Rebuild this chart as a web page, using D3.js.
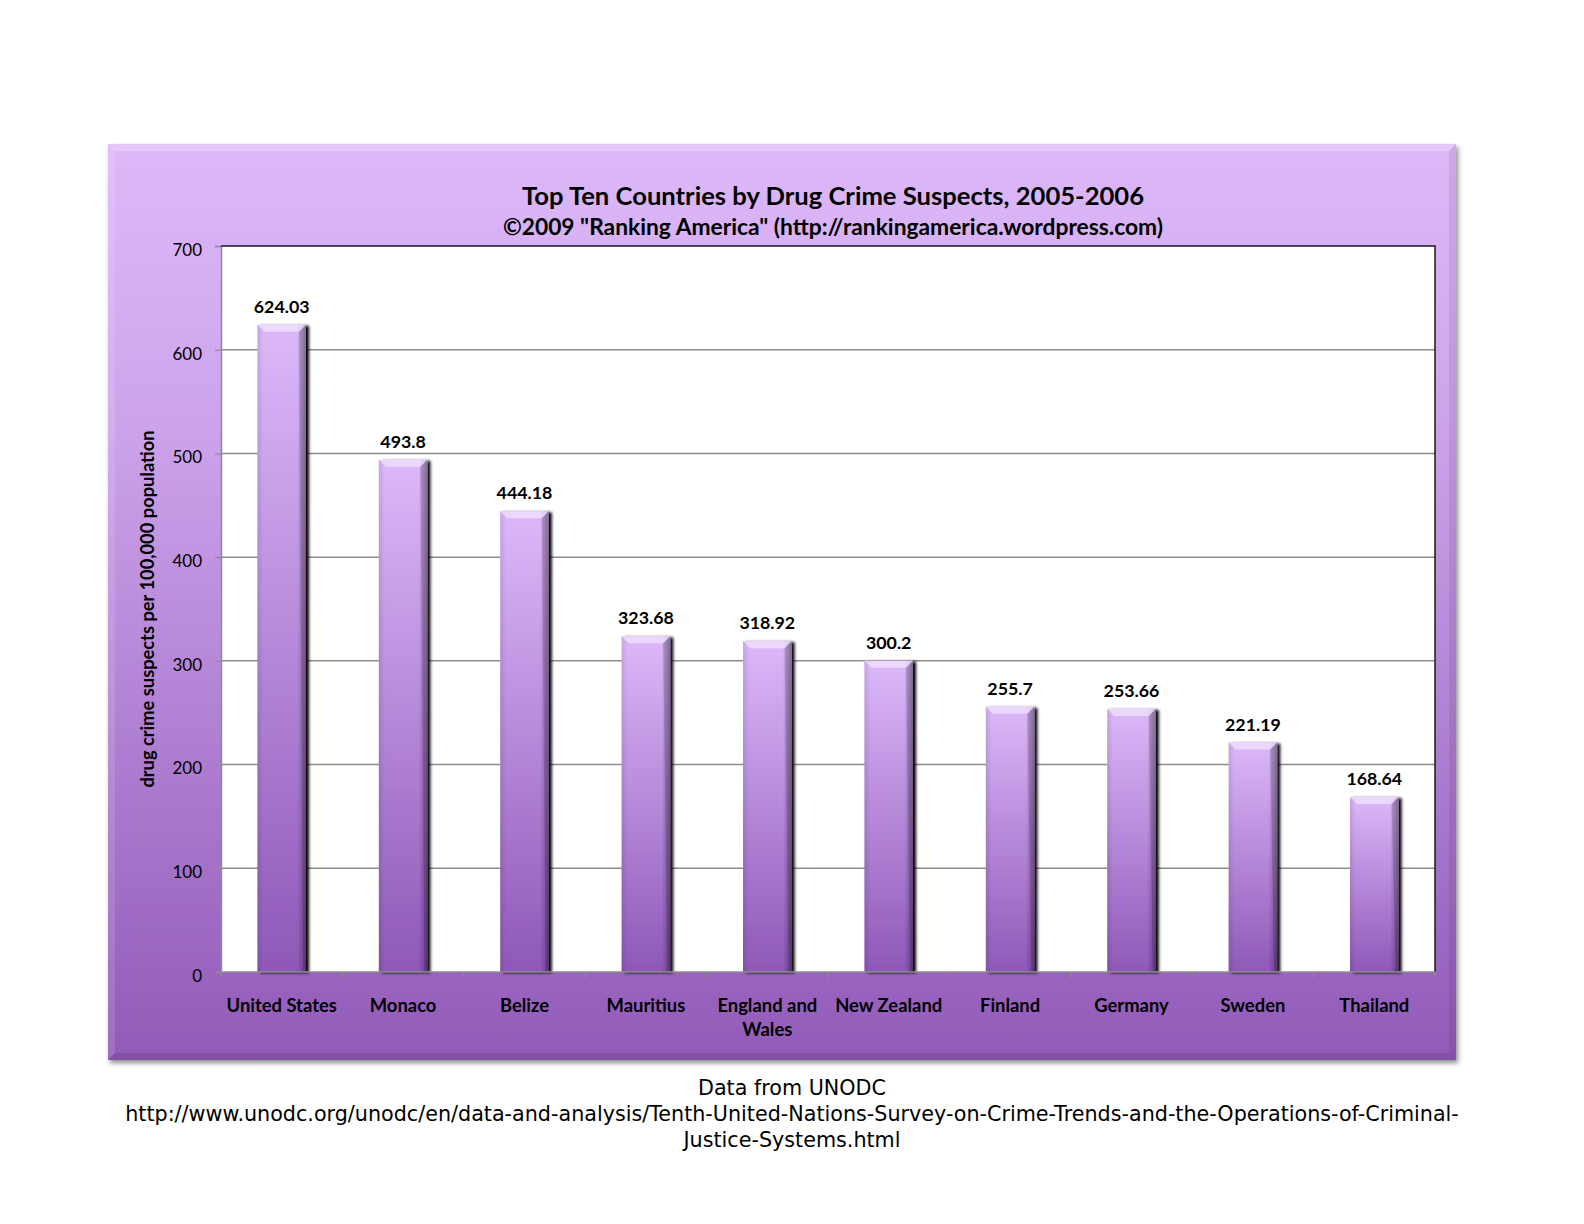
<!DOCTYPE html>
<html>
<head>
<meta charset="utf-8">
<script src="https://cdn.jsdelivr.net/npm/d3@7"></script>
<style>
  html, body { margin: 0; padding: 0; background: #ffffff; }
  svg { display: block; }
</style>
</head>
<body>
<svg id="chart" width="1584" height="1224"></svg>
<script>
const categories = ["United States", "Monaco", "Belize", "Mauritius", "England and Wales", "New Zealand", "Finland", "Germany", "Sweden", "Thailand"];
const values = [624.03, 493.8, 444.18, 323.68, 318.92, 300.2, 255.7, 253.66, 221.19, 168.64];
const yTicks = [0, 100, 200, 300, 400, 500, 600, 700];
const titleText = "Top Ten Countries by Drug Crime Suspects, 2005-2006";
const subtitleText = "©2009 \"Ranking America\" (http://rankingamerica.wordpress.com)";
const yAxisTitle = "drug crime suspects per 100,000 population";
const footerLines = ["Data from UNODC", "http://www.unodc.org/unodc/en/data-and-analysis/Tenth-United-Nations-Survey-on-Crime-Trends-and-the-Operations-of-Criminal-", "Justice-Systems.html"];

const svg = d3.select("#chart");
const panel = {x: 108, y: 144, w: 1348, h: 916};
const plot = {left: 221, top: 246, right: 1435, bottom: 972};
const labelFont = "Lato, Carlito, Calibri, 'Open Sans', sans-serif";

const defs = svg.append("defs");
const pg = defs.append("linearGradient").attr("id", "panelGrad").attr("x1", 0).attr("y1", 0).attr("x2", 0).attr("y2", 1);
pg.append("stop").attr("offset", "0%").attr("stop-color", "#ddb9f9");
pg.append("stop").attr("offset", "30%").attr("stop-color", "#cda4ec");
pg.append("stop").attr("offset", "100%").attr("stop-color", "#925ab8");

const bg = defs.append("linearGradient").attr("id", "barGrad").attr("x1", 0).attr("y1", 0).attr("x2", 0).attr("y2", 1);
bg.append("stop").attr("offset", "0%").attr("stop-color", "#dcb8fa");
bg.append("stop").attr("offset", "100%").attr("stop-color", "#8f58b8");

const bh = defs.append("linearGradient").attr("id", "barSide").attr("x1", 0).attr("y1", 0).attr("x2", 1).attr("y2", 0);
bh.append("stop").attr("offset", "0%").attr("stop-color", "#000").attr("stop-opacity", 0.10);
bh.append("stop").attr("offset", "12%").attr("stop-color", "#000").attr("stop-opacity", 0);
bh.append("stop").attr("offset", "82%").attr("stop-color", "#000").attr("stop-opacity", 0);
bh.append("stop").attr("offset", "100%").attr("stop-color", "#000").attr("stop-opacity", 0.30);

const shadow = defs.append("filter").attr("id", "panelShadow").attr("x", "-5%").attr("y", "-5%").attr("width", "110%").attr("height", "110%");
shadow.append("feDropShadow").attr("dx", 2).attr("dy", 3).attr("stdDeviation", 2.5).attr("flood-color", "#000").attr("flood-opacity", 0.45);

const barShadow = defs.append("filter").attr("id", "barShadow").attr("x", "-30%").attr("y", "-10%").attr("width", "160%").attr("height", "120%");
barShadow.append("feDropShadow").attr("dx", 3).attr("dy", 1).attr("stdDeviation", 1.6).attr("flood-color", "#000").attr("flood-opacity", 1);

// Panel
svg.append("rect")
  .attr("x", panel.x).attr("y", panel.y).attr("width", panel.w).attr("height", panel.h)
  .attr("fill", "url(#panelGrad)").attr("filter", "url(#panelShadow)");
// Panel bevel
const bev = 7;
svg.append("path")
  .attr("d", `M${panel.x},${panel.y} L${panel.x + panel.w},${panel.y} L${panel.x + panel.w - bev},${panel.y + bev} L${panel.x + bev},${panel.y + bev} Z`)
  .attr("fill", "#ffffff").attr("opacity", 0.22);
svg.append("path")
  .attr("d", `M${panel.x},${panel.y} L${panel.x + bev},${panel.y + bev} L${panel.x + bev},${panel.y + panel.h - bev} L${panel.x},${panel.y + panel.h} Z`)
  .attr("fill", "#ffffff").attr("opacity", 0.12);
svg.append("path")
  .attr("d", `M${panel.x + panel.w},${panel.y} L${panel.x + panel.w},${panel.y + panel.h} L${panel.x + panel.w - bev},${panel.y + panel.h - bev} L${panel.x + panel.w - bev},${panel.y + bev} Z`)
  .attr("fill", "#000000").attr("opacity", 0.08);
svg.append("path")
  .attr("d", `M${panel.x},${panel.y + panel.h} L${panel.x + panel.w},${panel.y + panel.h} L${panel.x + panel.w - bev},${panel.y + panel.h - bev} L${panel.x + bev},${panel.y + panel.h - bev} Z`)
  .attr("fill", "#000000").attr("opacity", 0.10);

// Scales
const x = d3.scaleBand().domain(categories).range([plot.left, plot.right]).paddingInner(0.6).paddingOuter(0.3);
const y = d3.scaleLinear().domain([0, 700]).range([plot.bottom, plot.top]);

// Plot area
svg.append("rect")
  .attr("x", plot.left).attr("y", plot.top).attr("width", plot.right - plot.left).attr("height", plot.bottom - plot.top)
  .attr("fill", "#ffffff");

// Gridlines
svg.append("g").selectAll("line").data(yTicks.filter(d => d > 0 && d < 700)).join("line")
  .attr("x1", plot.left).attr("x2", plot.right)
  .attr("y1", d => y(d)).attr("y2", d => y(d))
  .attr("stroke", "#8c8c8c").attr("stroke-width", 1.5);

// Y axis
const yAxis = svg.append("g").attr("transform", `translate(${plot.left},0)`)
  .call(d3.axisLeft(y).tickValues(yTicks).tickSize(6).tickPadding(13).tickFormat(d3.format("d")));
yAxis.select(".domain").attr("stroke", "#8c8c8c").attr("stroke-width", 1.5);
yAxis.selectAll(".tick line").attr("stroke", "#8c8c8c").attr("stroke-width", 1.2);
yAxis.selectAll(".tick text").attr("font-family", labelFont).attr("font-size", 17).attr("fill", "#000").attr("dy", "0.55em");

// Plot border top/right
svg.append("path")
  .attr("d", `M${plot.left},${plot.top} L${plot.right},${plot.top} L${plot.right},${plot.bottom}`)
  .attr("fill", "none").attr("stroke", "#1a1a1a").attr("stroke-width", 1.5);

// Bars
const bars = svg.append("g");
const bw = x.bandwidth();
const barG = bars.selectAll("g.bar").data(categories.map((c, i) => ({c, v: values[i]}))).join("g").attr("class", "bar");
barG.append("rect")
  .attr("x", d => x(d.c)).attr("y", d => y(d.v)).attr("width", bw).attr("height", d => y(0) - y(d.v))
  .attr("fill", "url(#barGrad)").attr("filter", "url(#barShadow)");
barG.append("rect")
  .attr("x", d => x(d.c)).attr("y", d => y(d.v)).attr("width", bw).attr("height", d => y(0) - y(d.v))
  .attr("fill", "url(#barSide)");
const bb = 7;
barG.append("path")
  .attr("d", d => { const x0 = x(d.c), y0 = y(d.v); return `M${x0},${y0} L${x0 + bw},${y0} L${x0 + bw - bb},${y0 + bb} L${x0 + bb},${y0 + bb} Z`; })
  .attr("fill", "#f3e6ff").attr("opacity", 0.7);
barG.append("path")
  .attr("d", d => { const x0 = x(d.c), y0 = y(d.v); return `M${x0 + bw},${y0} L${x0 + bw},${y(0)} L${x0 + bw - 3},${y(0)} L${x0 + bw - bb},${y0 + bb} Z`; })
  .attr("fill", "#000").attr("opacity", 0.15);

// Value labels
bars.selectAll("text.val").data(categories.map((c, i) => ({c, v: values[i]}))).join("text")
  .attr("class", "val")
  .attr("x", d => x(d.c) + bw / 2).attr("y", d => y(d.v) - 12)
  .attr("text-anchor", "middle").attr("font-family", labelFont).attr("font-weight", "bold").attr("font-size", 17.8)
  .attr("fill", "#000").text(d => String(d.v));

// X axis baseline and tick marks
svg.append("line").attr("x1", plot.left).attr("x2", plot.right).attr("y1", plot.bottom).attr("y2", plot.bottom)
  .attr("stroke", "#8c8c8c").attr("stroke-width", 1.5);
const step = x.step();
const bounds = d3.range(categories.length + 1).map(i => plot.left + i * (plot.right - plot.left) / categories.length);
svg.append("g").selectAll("line").data(bounds).join("line")
  .attr("x1", d => d).attr("x2", d => d).attr("y1", plot.bottom).attr("y2", plot.bottom + 6)
  .attr("stroke", "#8c8c8c").attr("stroke-width", 1.2);

// Category labels (wrapped)
const catG = svg.append("g");
categories.forEach((c, i) => {
  const cx = x(c) + bw / 2;
  const t = catG.append("text").attr("x", cx).attr("y", 1012)
    .attr("text-anchor", "middle").attr("font-family", labelFont).attr("font-weight", "bold").attr("font-size", 18.4).attr("fill", "#000");
  const words = c.split(" ");
  let line = [];
  let tspan = t.append("tspan").attr("x", cx).attr("dy", 0);
  words.forEach(w => {
    line.push(w);
    tspan.text(line.join(" "));
    if (tspan.node().getComputedTextLength() > step - 4 && line.length > 1) {
      line.pop();
      tspan.text(line.join(" "));
      line = [w];
      tspan = t.append("tspan").attr("x", cx).attr("dy", 24).text(w);
    }
  });
});

// Titles
svg.append("text").attr("x", 833).attr("y", 205).attr("text-anchor", "middle")
  .attr("font-family", labelFont).attr("font-weight", "bold").attr("font-size", 25.6).attr("fill", "#000").text(titleText);
svg.append("text").attr("x", 833).attr("y", 235).attr("text-anchor", "middle")
  .attr("font-family", labelFont).attr("font-weight", "bold").attr("font-size", 22.8).attr("fill", "#000").text(subtitleText);

// Y axis title
svg.append("text").attr("transform", `translate(154,${(y(0) + y(700)) / 2 }) rotate(-90)`)
  .attr("text-anchor", "middle").attr("font-family", labelFont).attr("font-weight", "bold").attr("font-size", 18.3)
  .attr("fill", "#000").text(yAxisTitle);

// Footer
svg.append("g").selectAll("text").data(footerLines).join("text")
  .attr("x", 792).attr("y", (d, i) => 1095 + i * 26).attr("text-anchor", "middle")
  .attr("font-family", "'DejaVu Sans', Verdana, sans-serif").attr("font-size", 20.7).attr("fill", "#000").text(d => d);
</script>
</body>
</html>
